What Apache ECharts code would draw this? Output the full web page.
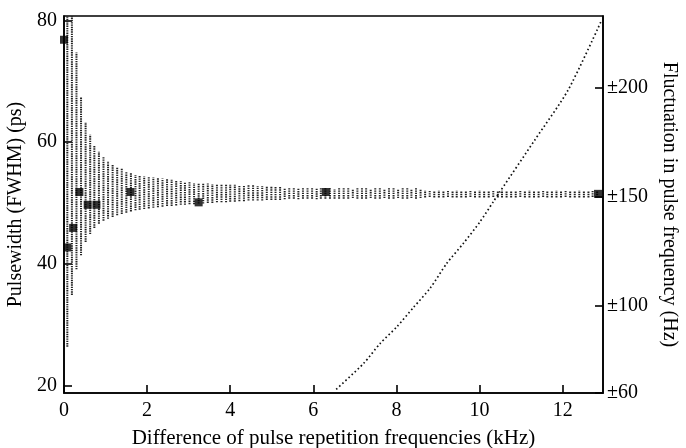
<!DOCTYPE html>
<html>
<head>
<meta charset="utf-8">
<script src="https://cdn.jsdelivr.net/npm/echarts@6/dist/echarts.min.js"></script>
<style>html,body{margin:0;padding:0;background:#fff;}#c{width:686px;height:448px;}</style>
</head>
<body>
<div id="c"></div>
<script>
// ---- data ----
const xTicks = [0, 2, 4, 6, 8, 10, 12];
const leftTicks = [20, 40, 60, 80];
const rightTicks = [60, 100, 150, 200];

// measured pulsewidth points (kHz, ps)
const pwX = [0, 0.08, 0.22, 0.37, 0.57, 0.78, 1.60, 3.24, 6.30, 12.85];
const pwY = [76.8, 42.7, 45.9, 51.8, 49.7, 49.7, 51.8, 50.1, 51.8, 51.5];

// dotted envelope lines: x position (kHz), top and bottom (ps)
const envX = [
 0.08,0.19,0.30,0.41,0.52,0.63,0.73,0.84,0.95,1.06,
 1.17,1.28,1.39,1.50,1.61,1.72,1.82,1.93,2.04,2.15,
 2.26,2.37,2.48,2.59,2.70,2.81,2.91,3.02,3.13,3.24,
 3.35,3.46,3.57,3.68,3.79,3.90,4.00,4.11,4.22,4.33,
 4.44,4.55,4.66,4.77,4.88,4.99,5.09,5.20,5.31,5.42,
 5.53,5.64,5.75,5.86,5.97,6.08,6.18,6.29,6.40,6.51,
 6.62,6.73,6.84,6.95,7.06,7.17,7.27,7.38,7.49,7.60,
 7.71,7.82,7.93,8.04,8.15,8.26,8.36,8.47,8.58,8.69,
 8.80,8.91,9.02,9.13,9.24,9.35,9.45,9.56,9.67,9.78,
 9.89,10.00,10.11,10.22,10.33,10.44,10.54,10.65,10.76,10.87,
 10.98,11.09,11.20,11.31,11.42,11.53,11.63,11.74,11.85,11.96,
 12.07,12.18,12.29,12.40,12.51,12.62,12.72,12.83
];
const envHigh = [
 80.7,80.7,74.7,67.4,63.3,61.2,59.4,58.4,57.6,56.9,
 56.4,55.9,55.6,55.2,54.9,54.6,54.5,54.4,54.3,54.2,
 54.1,54.0,53.9,53.8,53.7,53.6,53.5,53.4,53.3,53.3,
 53.2,53.2,53.1,53.1,53.1,53.0,53.0,53.0,52.9,52.9,
 52.9,52.9,52.8,52.8,52.8,52.8,52.7,52.7,
 52.5,52.4,52.4,52.5,52.4,52.4,52.4,52.5,52.4,52.4,
 52.4,52.3,52.4,52.4,52.4,52.3,52.4,52.4,52.4,52.3,
 52.4,52.4,52.3,52.4,52.4,52.3,52.4,52.4,52.3,52.4,52.3,
 52.1,52.0,52.0,52.1,52.0,52.0,52.0,52.1,52.0,52.0,
 52.0,52.0,52.1,52.0,52.0,52.0,52.0,52.1,52.0,52.0,
 52.0,52.0,52.0,52.1,52.0,52.0,52.0,52.0,52.0,52.1,
 52.0,52.0,52.0,52.0,52.1,52.0,52.0,52.0,52.0
];
const envLow = [
 26.4,34.9,39.1,41.4,43.6,44.9,45.9,46.6,47.1,47.4,
 47.7,48.0,48.2,48.4,48.6,48.8,48.9,49.0,49.1,49.2,
 49.3,49.4,49.5,49.5,49.6,49.7,49.7,49.8,49.8,49.9,
 49.9,50.0,50.0,50.1,50.1,50.1,50.2,50.2,50.3,50.3,
 50.4,50.4,50.4,50.4,50.5,50.5,50.5,50.5,
 50.6,50.7,50.7,50.6,50.7,50.7,50.7,50.6,50.7,50.7,
 50.7,50.7,50.7,50.7,50.7,50.8,50.7,50.7,50.7,50.8,
 50.7,50.7,50.8,50.7,50.7,50.8,50.7,50.7,50.8,50.7,50.8,
 50.9,51.0,50.9,50.9,50.9,51.0,50.9,50.9,50.9,50.9,
 51.0,50.9,50.9,50.9,50.9,51.0,50.9,50.9,50.9,50.9,
 50.9,51.0,50.9,50.9,50.9,50.9,51.0,50.9,50.9,50.9,
 50.9,51.0,50.9,50.9,50.9,50.9,50.9,51.0,50.9
];

// fluctuation in pulse frequency (kHz, Hz) on right axis
const fluX = [6.55, 7.21, 7.61, 8.01, 8.41, 8.81, 9.21, 9.61, 10.01, 10.33, 10.49, 11.33, 12.13, 12.94];
const fluY = [61.7, 73.6, 82.8, 90.4, 99.3, 108.1, 119.5, 128.7, 138.6, 147.8, 152.4, 176.2, 199.1, 231.3];

// ---- chart ----
const FONT = "'Liberation Serif','DejaVu Serif',serif";
const chart = echarts.init(document.getElementById('c'), null, {renderer: 'canvas'});
const envData = envX.map((x, i) => [x, envLow[i], envHigh[i]]);
const pwData = pwX.map((x, i) => [x, pwY[i]]);
const fluData = fluX.map((x, i) => [x, fluY[i]]);
const axisLineStyle = {color: '#000', width: 1.6};

chart.setOption({
  animation: false,
  backgroundColor: '#fff',
  grid: {left: 64, right: 83, top: 16, bottom: 55, containLabel: false, outerBoundsMode: 'none',
    show: true, borderColor: '#000', borderWidth: 1.6, backgroundColor: 'transparent'},
  xAxis: {
    type: 'value', min: 0, max: 12.97,
    name: 'Difference of pulse repetition frequencies (kHz)',
    nameLocation: 'middle', nameGap: 35,
    nameTextStyle: {fontFamily: FONT, fontSize: 21, color: '#000'},
    axisLine: {show: true, lineStyle: axisLineStyle},
    axisTick: {show: true, inside: true, length: 8, lineStyle: axisLineStyle, customValues: xTicks},
    axisLabel: {fontFamily: FONT, fontSize: 20, color: '#000', margin: 8, customValues: xTicks},
    splitLine: {show: false}
  },
  yAxis: [{
    type: 'value', min: 18.8, max: 80.7, position: 'left',
    name: 'Pulsewidth (FWHM) (ps)',
    nameLocation: 'middle', nameGap: 30, nameRotate: 90,
    nameTextStyle: {fontFamily: FONT, fontSize: 20, color: '#000'},
    axisLine: {show: true, lineStyle: axisLineStyle},
    axisTick: {show: true, inside: true, length: 8, lineStyle: axisLineStyle, customValues: leftTicks},
    axisLabel: {fontFamily: FONT, fontSize: 20, color: '#000', margin: 7, customValues: leftTicks},
    splitLine: {show: false}
  }, {
    type: 'value', min: 60, max: 233.1, position: 'right',
    name: 'Fluctuation in pulse frequency (Hz)',
    nameLocation: 'middle', nameGap: 46, nameRotate: -90,
    nameTextStyle: {fontFamily: FONT, fontSize: 20, color: '#000'},
    axisLine: {show: true, lineStyle: axisLineStyle},
    axisTick: {show: true, inside: true, length: 8, lineStyle: axisLineStyle, customValues: rightTicks},
    axisLabel: {fontFamily: FONT, fontSize: 20, color: '#000', margin: 4, customValues: rightTicks,
      formatter: v => '\u00b1' + v},
    splitLine: {show: false}
  }],
  series: [{
    type: 'custom',
    xAxisIndex: 0, yAxisIndex: 0,
    data: envData,
    clip: true,
    renderItem: function (params, api) {
      const x = api.value(0);
      const lo = api.coord([x, api.value(1)]);
      const hi = api.coord([x, api.value(2)]);
      return {
        type: 'line',
        shape: {x1: lo[0], y1: lo[1], x2: hi[0], y2: hi[1]},
        style: {stroke: '#222', lineWidth: 2, lineDash: [1.4, 0.9], fill: null}
      };
    },
    silent: true
  }, {
    type: 'line',
    xAxisIndex: 0, yAxisIndex: 1,
    data: fluData,
    smooth: 0.25,
    showSymbol: false,
    lineStyle: {color: '#111', width: 1.7, type: [1.6, 2.6]},
    silent: true
  }, {
    type: 'scatter',
    xAxisIndex: 0, yAxisIndex: 0,
    data: pwData,
    symbol: 'rect',
    symbolSize: [8, 8],
    itemStyle: {color: '#000'},
    clip: false,
    silent: true
  }]
});
</script>
</body>
</html>
